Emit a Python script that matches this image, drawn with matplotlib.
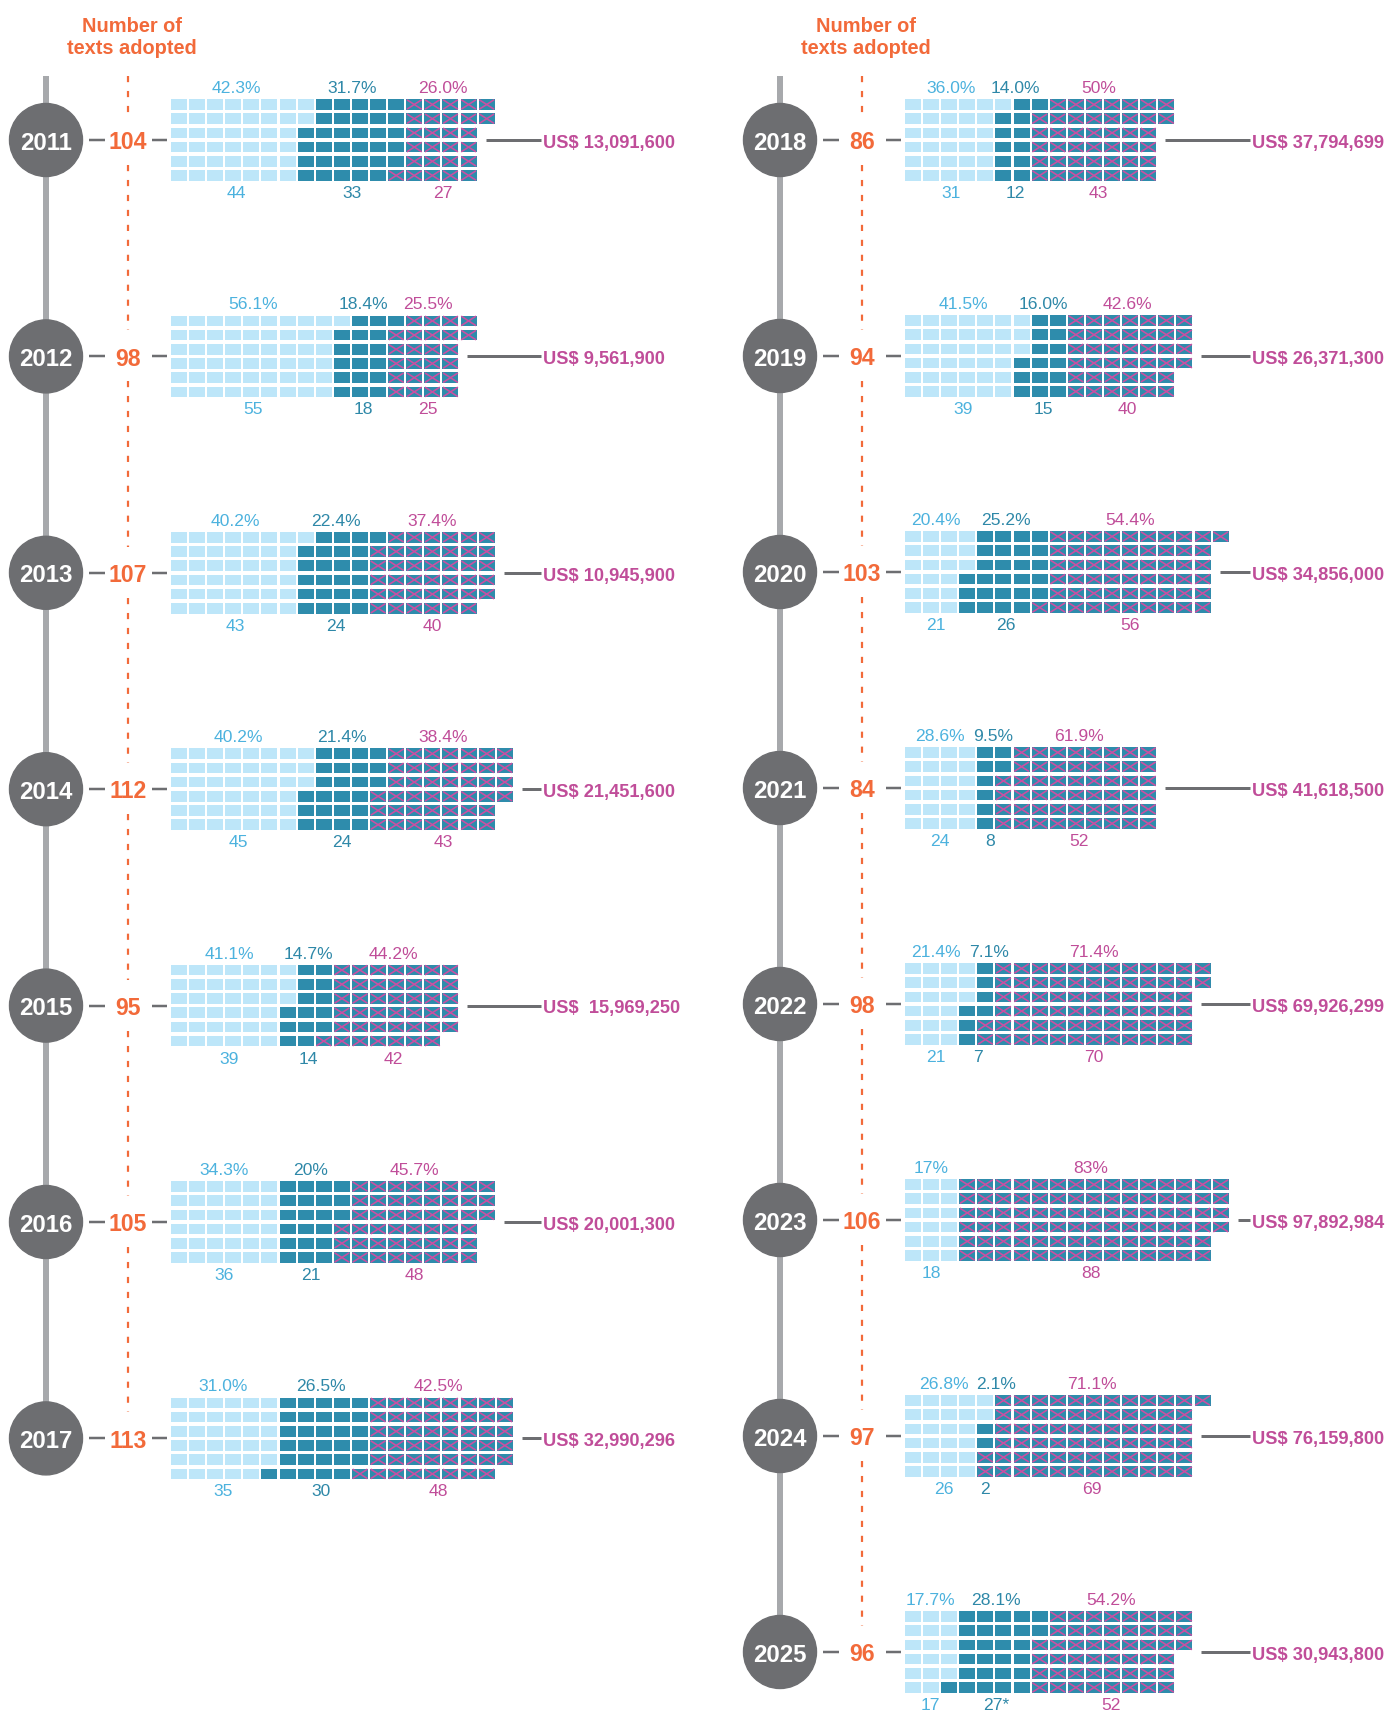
import matplotlib
matplotlib.use('Agg')
import matplotlib.pyplot as plt
from matplotlib.patches import Rectangle, Circle
from matplotlib.collections import PatchCollection, LineCollection

# ---------------- data ----------------
years = [2011, 2012, 2013, 2014, 2015, 2016, 2017,
         2018, 2019, 2020, 2021, 2022, 2023, 2024, 2025]
texts_adopted = [104, 98, 107, 112, 95, 105, 113,
                 86, 94, 103, 84, 98, 106, 97, 96]
n_light = [44, 55, 43, 45, 39, 36, 35, 31, 39, 21, 24, 21, 18, 26, 17]
n_dark = [33, 18, 24, 24, 14, 21, 30, 12, 15, 26, 8, 7, 0, 2, 27]
n_cross = [27, 25, 40, 43, 42, 48, 48, 43, 40, 56, 52, 70, 88, 69, 52]
# cells actually drawn for the third category (the 2025 grid shows 49 squares)
n_cross_drawn = [27, 25, 40, 43, 42, 48, 48, 43, 40, 56, 52, 70, 88, 69, 49]
pct_light = ["42.3%", "56.1%", "40.2%", "40.2%", "41.1%", "34.3%", "31.0%",
             "36.0%", "41.5%", "20.4%", "28.6%", "21.4%", "17%", "26.8%", "17.7%"]
pct_dark = ["31.7%", "18.4%", "22.4%", "21.4%", "14.7%", "20%", "26.5%",
            "14.0%", "16.0%", "25.2%", "9.5%", "7.1%", None, "2.1%", "28.1%"]
pct_cross = ["26.0%", "25.5%", "37.4%", "38.4%", "44.2%", "45.7%", "42.5%",
             "50%", "42.6%", "54.4%", "61.9%", "71.4%", "83%", "71.1%", "54.2%"]
dark_count_labels = ["33", "18", "24", "24", "14", "21", "30",
                     "12", "15", "26", "8", "7", None, "2", "27*"]
funding = ["US$ 13,091,600", "US$ 9,561,900", "US$ 10,945,900", "US$ 21,451,600",
           "US$  15,969,250", "US$ 20,001,300", "US$ 32,990,296",
           "US$ 37,794,699", "US$ 26,371,300", "US$ 34,856,000", "US$ 41,618,500",
           "US$ 69,926,299", "US$ 97,892,984", "US$ 76,159,800", "US$ 30,943,800"]
header = ["Number of", "texts adopted"]

# ---------------- style ----------------
plt.rcParams['font.family'] = ['Liberation Sans', 'DejaVu Sans']
C_LIGHT = '#bde6f9'
C_DARK = '#2e8cac'
C_MAG = '#cc4fa2'
C_LIGHT_TXT = '#4cb2de'
C_DARK_TXT = '#2e88a8'
C_MAG_TXT = '#c04d99'
C_ORANGE = '#f26a3a'
C_CIRCLE = '#6d6e71'
C_TIMELINE = '#a7a9ac'

W, H = 1388, 1715
PT = 0.72  # points per pixel at dpi 100
fig = plt.figure(figsize=(W / 100, H / 100), dpi=100)
ax = fig.add_axes([0, 0, 1, 1])
ax.set_xlim(0, W)
ax.set_ylim(H, 0)
ax.axis('off')

col_x = [46, 780]
money_x = [543, 1252]
col_dy = [216.4, 216.0]
Y0 = 141
R = 36.5
NUM_DX = 82
GRID_DX = 125
PX_X, CW = 18.1, 16.0
PX_Y, CH = 14.2, 10.7
ROWS = 6
TOP_Y = 77

FS_YEAR = 24 * PT
FS_NUM = 23 * PT
FS_HEAD = 20 * PT
FS_LAB = 17.5 * PT
FS_MONEY = 18.3 * PT

groups = [list(range(0, 7)), list(range(7, 15))]
renderer = fig.canvas.get_renderer()

for gi, idxs in enumerate(groups):
    cx = col_x[gi]
    nx = cx + NUM_DX
    centers = [Y0 + col_dy[gi] * j for j in range(len(idxs))]
    # timeline
    ax.plot([cx, cx], [TOP_Y, centers[-1]], color=C_TIMELINE, lw=6 * PT,
            solid_capstyle='butt', zorder=1)
    # header
    ax.text(nx + 4, 32, header[0], color=C_ORANGE, fontsize=FS_HEAD,
            fontweight='bold', ha='center', va='baseline')
    ax.text(nx + 4, 54, header[1], color=C_ORANGE, fontsize=FS_HEAD,
            fontweight='bold', ha='center', va='baseline')
    # dashed orange line
    starts = [TOP_Y] + [c + 25 for c in centers[:-1]]
    ends = [c - 26 for c in centers]
    for s, e in zip(starts, ends):
        ax.plot([nx, nx], [s, e], color=C_ORANGE, lw=2.2 * PT,
                dashes=(2.8, 4.0), zorder=1)

    for j, i in enumerate(idxs):
        yc = centers[j]
        # year circle
        ax.add_patch(Circle((cx, yc), R, color=C_CIRCLE, zorder=3))
        ax.text(cx, yc + 8.6, str(years[i]), color='white', fontsize=FS_YEAR,
                fontweight='bold', ha='center', va='baseline', zorder=4)
        # dashes and number
        ax.plot([cx + 43, cx + 59], [yc, yc], color=C_CIRCLE, lw=2.5 * PT,
                solid_capstyle='butt')
        ax.plot([cx + 106, cx + 121], [yc, yc], color=C_CIRCLE, lw=2.5 * PT,
                solid_capstyle='butt')
        ax.text(nx, yc + 8.2, str(texts_adopted[i]), color=C_ORANGE,
                fontsize=FS_NUM, fontweight='bold', ha='center', va='baseline')

        # waffle grid (filled column by column, 6 rows)
        gx = cx + GRID_DX
        gtop = yc - (PX_Y * (ROWS - 1) + CH) / 2
        counts = [n_light[i], n_dark[i], n_cross_drawn[i]]
        seg_cells = [[], [], []]
        k = 0
        for s, n in enumerate(counts):
            for _ in range(n):
                col, row = divmod(k, ROWS)
                seg_cells[s].append((gx + col * PX_X, gtop + row * PX_Y, row))
                k += 1
        light_p = [Rectangle((x, y), CW, CH) for x, y, _ in seg_cells[0]]
        dark_p = [Rectangle((x, y), CW, CH) for x, y, _ in seg_cells[1] + seg_cells[2]]
        ax.add_collection(PatchCollection(light_p, facecolor=C_LIGHT,
                                          edgecolor='none', zorder=2))
        ax.add_collection(PatchCollection(dark_p, facecolor=C_DARK,
                                          edgecolor='none', zorder=2))
        xl = []
        for x, y, _ in seg_cells[2]:
            xl.append([(x + 0.6, y + 0.6), (x + CW - 0.6, y + CH - 0.6)])
            xl.append([(x + 0.6, y + CH - 0.6), (x + CW - 0.6, y + 0.6)])
        ax.add_collection(LineCollection(xl, colors=C_MAG, linewidths=1.6 * PT,
                                         zorder=2.5))

        # connector line from the grid's middle rows to the funding label
        mid_right = max(x + CW for s in seg_cells for x, y, r in s if r in (2, 3))
        ax.plot([mid_right + 9, money_x[gi] - 2], [yc, yc], color=C_CIRCLE,
                lw=3 * PT, solid_capstyle='butt')
        ax.text(money_x[gi], yc + 6.8, funding[i], color=C_MAG_TXT,
                fontsize=FS_MONEY, fontweight='bold', ha='left', va='baseline')

        # percentage (top) and count (bottom) labels
        tops = [pct_light[i], pct_dark[i], pct_cross[i]]
        bots = [str(n_light[i]), dark_count_labels[i], str(n_cross[i])]
        cols = [C_LIGHT_TXT, C_DARK_TXT, C_MAG_TXT]
        prev_right = None
        for s in range(3):
            if not seg_cells[s] or tops[s] is None:
                continue
            cm = sum(x + CW / 2 for x, y, r in seg_cells[s]) / len(seg_cells[s])
            t = ax.text(cm, yc - 48, tops[s], color=cols[s], fontsize=FS_LAB,
                        ha='center', va='baseline')
            w = t.get_window_extent(renderer).width
            xt = cm
            if prev_right is not None and xt - w / 2 < prev_right + 8:
                xt = prev_right + 8 + w / 2
                t.set_x(xt)
            prev_right = xt + w / 2
            ax.text(cm, yc + 57, bots[s], color=cols[s], fontsize=FS_LAB,
                    ha='center', va='baseline')

fig.savefig('out.png', dpi=100)
